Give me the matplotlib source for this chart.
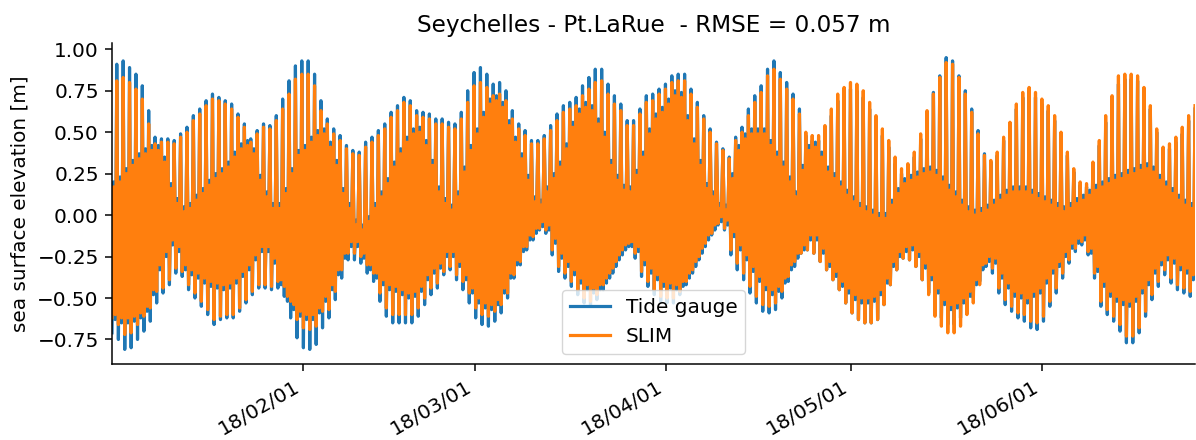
import numpy as np
import pandas as pd
import matplotlib
matplotlib.use("Agg")
import matplotlib.pyplot as plt
import matplotlib.dates as mdates

# ---------------- data ----------------
title = "Seychelles - Pt.LaRue  - RMSE = 0.057 m"
ylabel = "sea surface elevation [m]"
series_names = ["Tide gauge", "SLIM"]
start_time = "2018-01-01 01:40"
quarter_lunar_day = "22356s"   # one tidal turning point every ~6h12m

# Each lunar day: lower low (LL), lower high (LH), higher low (HL), higher high (HH)
tg_ll = [-0.71, -0.75, -0.81, -0.80, -0.75, -0.70, -0.64, -0.53, -0.47, -0.42,
         -0.35, -0.37, -0.45, -0.50, -0.55, -0.60, -0.66, -0.63, -0.62, -0.62,
         -0.58, -0.53, -0.48, -0.44, -0.44, -0.45, -0.44, -0.49, -0.62, -0.74,
         -0.80, -0.81, -0.78, -0.68, -0.62, -0.51, -0.38, -0.27, -0.27, -0.29,
         -0.35, -0.40, -0.52, -0.61, -0.65, -0.65, -0.65, -0.65, -0.61, -0.54,
         -0.48, -0.44, -0.36, -0.33, -0.39, -0.45, -0.53, -0.62, -0.66, -0.67,
         -0.64, -0.59, -0.50, -0.38, -0.30, -0.21, -0.15, -0.09, -0.11, -0.24,
         -0.34, -0.38, -0.43, -0.48, -0.53, -0.55, -0.51, -0.45, -0.38, -0.31,
         -0.24, -0.19, -0.26, -0.37, -0.43, -0.48, -0.52, -0.53, -0.53, -0.48,
         -0.42, -0.35, -0.27, -0.19, -0.12, -0.06, -0.09, -0.24, -0.33, -0.39,
         -0.47, -0.53, -0.58, -0.59, -0.57, -0.50, -0.40, -0.31, -0.23, -0.21,
         -0.23, -0.28, -0.33, -0.39, -0.45, -0.53, -0.59, -0.63, -0.65, -0.65,
         -0.63, -0.54, -0.42, -0.33, -0.26, -0.27, -0.31, -0.39, -0.47, -0.56,
         -0.62, -0.66, -0.66, -0.62, -0.56, -0.50, -0.40, -0.31, -0.35, -0.47,
         -0.54, -0.58, -0.62, -0.64, -0.68, -0.69, -0.64, -0.55, -0.47, -0.38,
         -0.29, -0.22, -0.18, -0.24, -0.38, -0.55, -0.60, -0.64, -0.70, -0.77,
         -0.77, -0.71, -0.61, -0.51, -0.43, -0.36, -0.41, -0.45, -0.47, -0.49]
tg_lh = [0.20, 0.23, 0.28, 0.33, 0.37, 0.40, 0.42, 0.42, 0.35, 0.19,
         0.10, 0.05, 0.07, 0.12, 0.16, 0.21, 0.25, 0.28, 0.32, 0.38,
         0.43, 0.45, 0.40, 0.24, 0.14, 0.07, 0.07, 0.16, 0.28, 0.39,
         0.42, 0.47, 0.51, 0.52, 0.44, 0.33, 0.16, 0.07, -0.03, -0.06,
         -0.01, 0.07, 0.14, 0.22, 0.32, 0.40, 0.47, 0.52, 0.53, 0.45,
         0.33, 0.17, 0.10, 0.06, 0.14, 0.29, 0.42, 0.52, 0.62, 0.70,
         0.72, 0.68, 0.57, 0.47, 0.37, 0.24, 0.11, 0.09, 0.17, 0.25,
         0.32, 0.43, 0.56, 0.64, 0.68, 0.66, 0.58, 0.50, 0.33, 0.24,
         0.18, 0.17, 0.27, 0.38, 0.52, 0.61, 0.65, 0.70, 0.75, 0.74,
         0.60, 0.46, 0.33, 0.19, 0.14, 0.07, 0.06, 0.25, 0.42, 0.49,
         0.52, 0.52, 0.52, 0.45, 0.38, 0.32, 0.23, 0.14, 0.30, 0.42,
         0.44, 0.38, 0.29, 0.25, 0.20, 0.15, 0.11, 0.07, 0.05, 0.03,
         0.01, 0.01, 0.09, 0.16, 0.22, 0.24, 0.26, 0.28, 0.29, 0.27,
         0.23, 0.18, 0.14, 0.09, 0.05, 0.03, 0.04, 0.06, 0.09, 0.12,
         0.15, 0.17, 0.17, 0.17, 0.15, 0.13, 0.11, 0.09, 0.07, 0.05,
         0.07, 0.10, 0.12, 0.15, 0.18, 0.20, 0.22, 0.24, 0.25, 0.27,
         0.28, 0.30, 0.31, 0.29, 0.24, 0.20, 0.16, 0.12, 0.09, 0.07]
tg_hl = [-0.63, -0.65, -0.65, -0.64, -0.62, -0.58, -0.48, -0.33, -0.25, -0.18,
         -0.22, -0.33, -0.36, -0.38, -0.41, -0.43, -0.44, -0.45, -0.44, -0.41,
         -0.37, -0.33, -0.27, -0.22, -0.22, -0.29, -0.42, -0.52, -0.57, -0.61,
         -0.63, -0.63, -0.59, -0.52, -0.45, -0.36, -0.26, -0.19, -0.19, -0.26,
         -0.33, -0.38, -0.42, -0.45, -0.46, -0.48, -0.50, -0.49, -0.46, -0.39,
         -0.35, -0.32, -0.25, -0.25, -0.31, -0.39, -0.47, -0.53, -0.56, -0.57,
         -0.54, -0.47, -0.38, -0.30, -0.22, -0.15, -0.11, -0.07, -0.09, -0.17,
         -0.26, -0.31, -0.36, -0.41, -0.45, -0.47, -0.45, -0.41, -0.35, -0.27,
         -0.21, -0.19, -0.22, -0.30, -0.35, -0.39, -0.43, -0.44, -0.45, -0.43,
         -0.38, -0.31, -0.23, -0.15, -0.09, -0.04, -0.06, -0.13, -0.21, -0.27,
         -0.34, -0.40, -0.45, -0.48, -0.46, -0.41, -0.33, -0.26, -0.21, -0.15,
         -0.15, -0.23, -0.31, -0.37, -0.43, -0.47, -0.51, -0.53, -0.53, -0.52,
         -0.48, -0.41, -0.31, -0.25, -0.22, -0.21, -0.25, -0.32, -0.39, -0.47,
         -0.54, -0.57, -0.56, -0.53, -0.49, -0.42, -0.33, -0.28, -0.29, -0.38,
         -0.44, -0.49, -0.50, -0.53, -0.49, -0.47, -0.41, -0.35, -0.31, -0.25,
         -0.20, -0.17, -0.15, -0.23, -0.34, -0.43, -0.49, -0.52, -0.54, -0.55,
         -0.52, -0.47, -0.42, -0.35, -0.30, -0.27, -0.29, -0.33, -0.35, -0.39]
tg_hh = [0.91, 0.93, 0.89, 0.85, 0.78, 0.63, 0.47, 0.46, 0.46, 0.45,
         0.49, 0.53, 0.60, 0.64, 0.69, 0.73, 0.71, 0.69, 0.67, 0.61,
         0.55, 0.46, 0.51, 0.55, 0.54, 0.60, 0.70, 0.81, 0.90, 0.93,
         0.93, 0.85, 0.69, 0.58, 0.52, 0.48, 0.42, 0.39, 0.38, 0.44,
         0.47, 0.51, 0.55, 0.62, 0.66, 0.71, 0.69, 0.63, 0.62, 0.61,
         0.58, 0.58, 0.56, 0.55, 0.62, 0.75, 0.86, 0.89, 0.85, 0.79,
         0.80, 0.75, 0.63, 0.55, 0.51, 0.45, 0.45, 0.48, 0.54, 0.61,
         0.66, 0.68, 0.71, 0.78, 0.83, 0.88, 0.88, 0.79, 0.72, 0.67,
         0.57, 0.57, 0.64, 0.72, 0.73, 0.76, 0.79, 0.84, 0.85, 0.85,
         0.76, 0.68, 0.60, 0.52, 0.44, 0.40, 0.35, 0.47, 0.53, 0.64,
         0.72, 0.78, 0.88, 0.93, 0.86, 0.80, 0.73, 0.64, 0.48, 0.45,
         0.45, 0.50, 0.60, 0.69, 0.73, 0.76, 0.75, 0.71, 0.64, 0.56,
         0.48, 0.41, 0.31, 0.25, 0.28, 0.35, 0.46, 0.60, 0.74, 0.84,
         0.95, 0.93, 0.84, 0.75, 0.64, 0.51, 0.37, 0.32, 0.36, 0.45,
         0.53, 0.64, 0.71, 0.75, 0.71, 0.67, 0.63, 0.57, 0.48, 0.36,
         0.26, 0.18, 0.17, 0.30, 0.42, 0.56, 0.67, 0.79, 0.82, 0.82,
         0.81, 0.75, 0.64, 0.50, 0.39, 0.40, 0.44, 0.49, 0.57, 0.64]

slim_ll = [-0.62, -0.66, -0.72, -0.71, -0.66, -0.61, -0.56, -0.46, -0.44, -0.39,
           -0.32, -0.34, -0.42, -0.47, -0.52, -0.57, -0.63, -0.61, -0.60, -0.60,
           -0.56, -0.51, -0.46, -0.42, -0.42, -0.43, -0.40, -0.43, -0.52, -0.63,
           -0.68, -0.69, -0.67, -0.58, -0.57, -0.46, -0.33, -0.23, -0.23, -0.25,
           -0.30, -0.35, -0.47, -0.56, -0.60, -0.60, -0.60, -0.60, -0.56, -0.50,
           -0.44, -0.41, -0.34, -0.31, -0.36, -0.40, -0.47, -0.56, -0.60, -0.61,
           -0.58, -0.54, -0.47, -0.36, -0.28, -0.19, -0.13, -0.08, -0.09, -0.21,
           -0.31, -0.35, -0.40, -0.45, -0.50, -0.52, -0.48, -0.42, -0.35, -0.28,
           -0.21, -0.17, -0.23, -0.34, -0.40, -0.45, -0.49, -0.50, -0.50, -0.46,
           -0.40, -0.33, -0.25, -0.17, -0.11, -0.05, -0.08, -0.21, -0.29, -0.35,
           -0.43, -0.49, -0.54, -0.55, -0.53, -0.46, -0.37, -0.28, -0.23, -0.21,
           -0.23, -0.28, -0.33, -0.39, -0.45, -0.53, -0.59, -0.63, -0.65, -0.65,
           -0.63, -0.54, -0.42, -0.33, -0.26, -0.27, -0.31, -0.39, -0.48, -0.61,
           -0.67, -0.71, -0.71, -0.67, -0.60, -0.53, -0.42, -0.29, -0.32, -0.44,
           -0.51, -0.55, -0.59, -0.60, -0.64, -0.65, -0.61, -0.52, -0.44, -0.35,
           -0.27, -0.20, -0.16, -0.22, -0.35, -0.52, -0.57, -0.61, -0.66, -0.73,
           -0.73, -0.68, -0.58, -0.48, -0.40, -0.33, -0.38, -0.42, -0.44, -0.46]
slim_lh = [0.17, 0.20, 0.25, 0.30, 0.34, 0.37, 0.39, 0.39, 0.32, 0.16,
           0.07, 0.02, 0.04, 0.09, 0.13, 0.18, 0.22, 0.25, 0.29, 0.35,
           0.40, 0.42, 0.37, 0.21, 0.11, 0.04, 0.04, 0.13, 0.25, 0.36,
           0.39, 0.44, 0.48, 0.49, 0.41, 0.30, 0.13, 0.04, -0.06, -0.09,
           -0.04, 0.04, 0.11, 0.19, 0.29, 0.37, 0.44, 0.49, 0.50, 0.42,
           0.30, 0.14, 0.07, 0.03, 0.11, 0.26, 0.39, 0.49, 0.59, 0.67,
           0.69, 0.65, 0.54, 0.44, 0.34, 0.21, 0.08, 0.06, 0.14, 0.22,
           0.29, 0.40, 0.53, 0.61, 0.65, 0.63, 0.55, 0.47, 0.30, 0.21,
           0.15, 0.14, 0.24, 0.35, 0.49, 0.58, 0.62, 0.67, 0.72, 0.71,
           0.57, 0.43, 0.30, 0.16, 0.11, 0.04, 0.03, 0.22, 0.39, 0.46,
           0.49, 0.49, 0.49, 0.42, 0.35, 0.29, 0.20, 0.11, 0.27, 0.39,
           0.41, 0.35, 0.26, 0.22, 0.17, 0.12, 0.08, 0.04, 0.02, 0.00,
           -0.02, -0.02, 0.06, 0.13, 0.19, 0.21, 0.23, 0.25, 0.26, 0.24,
           0.20, 0.15, 0.11, 0.06, 0.02, 0.00, 0.01, 0.03, 0.06, 0.09,
           0.12, 0.14, 0.14, 0.14, 0.12, 0.10, 0.08, 0.06, 0.04, 0.02,
           0.04, 0.07, 0.09, 0.12, 0.15, 0.17, 0.19, 0.21, 0.22, 0.24,
           0.25, 0.27, 0.28, 0.26, 0.21, 0.17, 0.13, 0.09, 0.06, 0.04]
slim_hl = [-0.60, -0.62, -0.62, -0.61, -0.59, -0.55, -0.45, -0.30, -0.22, -0.15,
           -0.19, -0.30, -0.33, -0.35, -0.38, -0.40, -0.41, -0.42, -0.41, -0.38,
           -0.34, -0.30, -0.24, -0.19, -0.19, -0.26, -0.39, -0.49, -0.54, -0.58,
           -0.60, -0.60, -0.56, -0.49, -0.42, -0.33, -0.23, -0.16, -0.16, -0.23,
           -0.30, -0.35, -0.39, -0.42, -0.43, -0.45, -0.47, -0.46, -0.43, -0.36,
           -0.32, -0.29, -0.22, -0.22, -0.28, -0.36, -0.44, -0.50, -0.53, -0.54,
           -0.51, -0.44, -0.35, -0.27, -0.19, -0.12, -0.08, -0.04, -0.06, -0.14,
           -0.23, -0.28, -0.33, -0.38, -0.42, -0.44, -0.42, -0.38, -0.32, -0.24,
           -0.18, -0.16, -0.19, -0.27, -0.32, -0.36, -0.40, -0.41, -0.42, -0.40,
           -0.35, -0.28, -0.20, -0.12, -0.06, -0.01, -0.03, -0.10, -0.18, -0.24,
           -0.31, -0.37, -0.42, -0.45, -0.43, -0.38, -0.30, -0.23, -0.18, -0.12,
           -0.12, -0.20, -0.28, -0.34, -0.40, -0.44, -0.48, -0.50, -0.50, -0.49,
           -0.45, -0.38, -0.28, -0.22, -0.19, -0.18, -0.22, -0.29, -0.36, -0.44,
           -0.51, -0.54, -0.53, -0.50, -0.46, -0.39, -0.30, -0.25, -0.26, -0.35,
           -0.41, -0.46, -0.47, -0.50, -0.46, -0.44, -0.38, -0.32, -0.28, -0.22,
           -0.17, -0.14, -0.12, -0.20, -0.31, -0.40, -0.46, -0.49, -0.51, -0.52,
           -0.49, -0.44, -0.39, -0.32, -0.27, -0.24, -0.26, -0.30, -0.32, -0.36]
slim_hh = [0.81, 0.83, 0.80, 0.76, 0.70, 0.55, 0.43, 0.44, 0.44, 0.43,
           0.47, 0.50, 0.57, 0.61, 0.66, 0.70, 0.69, 0.67, 0.64, 0.59,
           0.53, 0.44, 0.49, 0.53, 0.52, 0.57, 0.64, 0.73, 0.82, 0.85,
           0.85, 0.78, 0.63, 0.55, 0.49, 0.45, 0.40, 0.37, 0.36, 0.41,
           0.44, 0.48, 0.52, 0.59, 0.63, 0.68, 0.66, 0.60, 0.59, 0.58,
           0.55, 0.55, 0.53, 0.52, 0.58, 0.68, 0.78, 0.80, 0.77, 0.72,
           0.73, 0.69, 0.58, 0.52, 0.48, 0.43, 0.43, 0.46, 0.51, 0.57,
           0.62, 0.64, 0.66, 0.72, 0.76, 0.80, 0.81, 0.73, 0.67, 0.63,
           0.54, 0.54, 0.61, 0.68, 0.69, 0.73, 0.76, 0.80, 0.81, 0.81,
           0.73, 0.65, 0.58, 0.50, 0.43, 0.39, 0.34, 0.45, 0.50, 0.60,
           0.68, 0.74, 0.84, 0.88, 0.82, 0.76, 0.70, 0.61, 0.50, 0.48,
           0.48, 0.54, 0.64, 0.73, 0.77, 0.80, 0.79, 0.75, 0.68, 0.60,
           0.52, 0.45, 0.35, 0.28, 0.31, 0.38, 0.49, 0.63, 0.73, 0.83,
           0.92, 0.91, 0.83, 0.73, 0.62, 0.49, 0.36, 0.33, 0.38, 0.47,
           0.56, 0.67, 0.74, 0.77, 0.74, 0.70, 0.66, 0.60, 0.50, 0.38,
           0.28, 0.20, 0.19, 0.32, 0.45, 0.60, 0.72, 0.84, 0.85, 0.85,
           0.84, 0.77, 0.66, 0.52, 0.41, 0.43, 0.47, 0.53, 0.60, 0.66]


def tidal_sequence(ll, lh, hl, hh):
    n = min(len(ll), len(lh), len(hl), len(hh))
    return np.column_stack([ll[:n], lh[:n], hl[:n], hh[:n]]).ravel()


tide_gauge = tidal_sequence(tg_ll, tg_lh, tg_hl, tg_hh)
slim = tidal_sequence(slim_ll, slim_lh, slim_hl, slim_hh)
n = min(len(tide_gauge), len(slim))
times = pd.date_range(start_time, periods=n, freq=quarter_lunar_day)

# ---------------- styling ----------------
S = 1.36
plt.rcParams.update({
    "font.family": "DejaVu Sans",
    "font.size": 14.4,
    "axes.titlesize": 16.7,
    "axes.linewidth": 0.8 * S,
    "xtick.major.size": 3.5 * S,
    "ytick.major.size": 3.5 * S,
    "xtick.major.width": 0.8 * S,
    "ytick.major.width": 0.8 * S,
    "xtick.major.pad": 3.5 * S,
    "ytick.major.pad": 3.5 * S,
    "axes.titlepad": 6 * S,
    "axes.labelpad": 4 * S,
})

W, H = 1196, 440
fig = plt.figure(figsize=(W / 100, H / 100), dpi=100)
ax = fig.add_axes([112 / W, 1 - 364 / H, (1195 - 112) / W, (364 - 43) / H])

ax.plot(times, tide_gauge[:n], color="#1f77b4", lw=2.3, label=series_names[0])
ax.plot(times, slim[:n], color="#ff7f0e", lw=2.3, label=series_names[1])
ax.margins(x=0)

ax.xaxis.set_major_locator(mdates.MonthLocator())
ax.xaxis.set_major_formatter(mdates.DateFormatter("%y/%m/%d"))
plt.setp(ax.get_xticklabels(), rotation=30, ha="right", rotation_mode="default")

ax.spines["top"].set_visible(False)
ax.spines["right"].set_visible(False)

ax.set_title(title)
ax.set_ylabel(ylabel)
ax.legend(loc="lower center")

fig.savefig("out.png", dpi=100)
